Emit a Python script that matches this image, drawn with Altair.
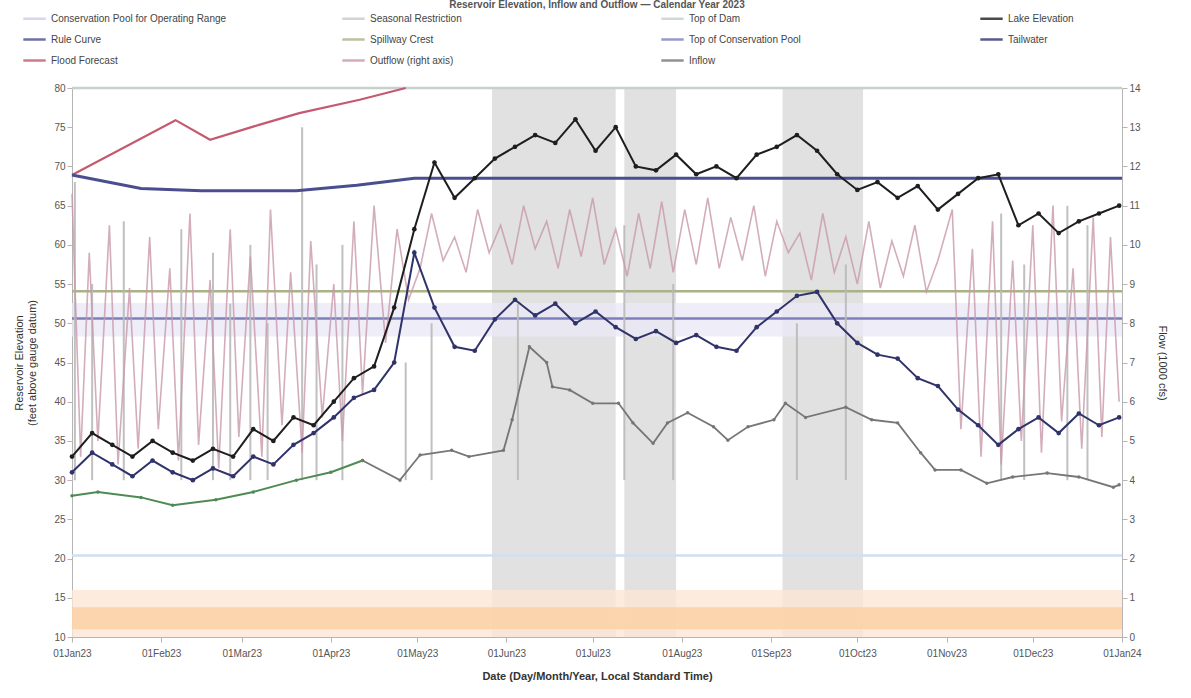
import altair as alt
import pandas as pd

# ---------------------------------------------------------------- text
TITLE = "Reservoir Elevation, Inflow and Outflow \u2014 Calendar Year 2023"
LEFT_TITLE = ["Reservoir Elevation", "(feet above gauge datum)"]
RIGHT_TITLE = "Flow (1000 cfs)"
X_TITLE = "Date (Day/Month/Year, Local Standard Time)"

# ---------------------------------------------------------------- legend entries
SERIES = [
    "Conservation Pool for Operating Range", "Seasonal Restriction", "Top of Dam", "Lake Elevation",
    "Rule Curve", "Spillway Crest", "Top of Conservation Pool", "Tailwater",
    "Flood Forecast", "Outflow (right axis)", "Inflow",
]
SERIES_COLORS = [
    "#cfcbe8", "#c9c9c9", "#c6d0cc", "#1e1e1e",
    "#4a4e8e", "#aab287", "#7c80bd", "#30336a",
    "#c45a6f", "#c898aa", "#767676",
]

# ---------------------------------------------------------------- weekly pool readings
WEEKS = [
    "2023-01-01", "2023-01-08", "2023-01-15", "2023-01-22", "2023-01-29",
    "2023-02-05", "2023-02-12", "2023-02-19", "2023-02-26",
    "2023-03-05", "2023-03-12", "2023-03-19", "2023-03-26",
    "2023-04-02", "2023-04-09", "2023-04-16", "2023-04-23", "2023-04-30",
    "2023-05-07", "2023-05-14", "2023-05-21", "2023-05-28",
    "2023-06-04", "2023-06-11", "2023-06-18", "2023-06-25",
    "2023-07-02", "2023-07-09", "2023-07-16", "2023-07-23", "2023-07-30",
    "2023-08-06", "2023-08-13", "2023-08-20", "2023-08-27",
    "2023-09-03", "2023-09-10", "2023-09-17", "2023-09-24",
    "2023-10-01", "2023-10-08", "2023-10-15", "2023-10-22", "2023-10-29",
    "2023-11-05", "2023-11-12", "2023-11-19", "2023-11-26",
    "2023-12-03", "2023-12-10", "2023-12-17", "2023-12-24", "2023-12-31",
]
LAKE_FT = [
    33.0, 36.0, 34.5, 33.0, 35.0, 33.5, 32.5, 34.0, 33.0, 36.5,
    35.0, 38.0, 37.0, 40.0, 43.0, 44.5, 52.0, 62.0, 70.5, 66.0,
    68.5, 71.0, 72.5, 74.0, 73.0, 76.0, 72.0, 75.0, 70.0, 69.5,
    71.5, 69.0, 70.0, 68.5, 71.5, 72.5, 74.0, 72.0, 69.0, 67.0,
    68.0, 66.0, 67.5, 64.5, 66.5, 68.5, 69.0, 62.5, 64.0, 61.5,
    63.0, 64.0, 65.0,
]
TAILWATER_FT = [
    31.0, 33.5, 32.0, 30.5, 32.5, 31.0, 30.0, 31.5, 30.5, 33.0,
    32.0, 34.5, 36.0, 38.0, 40.5, 41.5, 45.0, 59.0, 52.0, 47.0,
    46.5, 50.5, 53.0, 51.0, 52.5, 50.0, 51.5, 49.5, 48.0, 49.0,
    47.5, 48.5, 47.0, 46.5, 49.5, 51.5, 53.5, 54.0, 50.0, 47.5,
    46.0, 45.5, 43.0, 42.0, 39.0, 37.0, 34.5, 36.5, 38.0, 36.0,
    38.5, 37.0, 38.0,
]

# ---------------------------------------------------------------- guide curves
RULE_DATES = ["2023-01-01", "2023-01-25", "2023-02-15", "2023-03-20", "2023-04-10", "2023-04-30", "2024-01-01"]
RULE_FT = [68.9, 67.2, 66.9, 66.9, 67.6, 68.5, 68.5]

FORECAST_DATES = ["2023-01-01", "2023-02-06", "2023-02-18", "2023-03-07", "2023-03-21", "2023-04-11", "2023-04-27"]
FORECAST_FT = [68.9, 75.9, 73.4, 75.3, 76.8, 78.5, 80.0]

MINIMUM_DATES = ["2023-01-01", "2023-01-10", "2023-01-25", "2023-02-05", "2023-02-20",
                 "2023-03-05", "2023-03-20", "2023-04-01", "2023-04-12"]
MINIMUM_FT = [28.0, 28.5, 27.8, 26.8, 27.5, 28.5, 30.0, 31.0, 32.5]

INFLOW_DATES = [
    "2023-04-12", "2023-04-25", "2023-05-02", "2023-05-13", "2023-05-19", "2023-05-31",
    "2023-06-03", "2023-06-09", "2023-06-15", "2023-06-17", "2023-06-23",
    "2023-07-01", "2023-07-10", "2023-07-15", "2023-07-22", "2023-07-27",
    "2023-08-03", "2023-08-12", "2023-08-17", "2023-08-24",
    "2023-09-02", "2023-09-06", "2023-09-13", "2023-09-27",
    "2023-10-06", "2023-10-15", "2023-10-23", "2023-10-28",
    "2023-11-06", "2023-11-15", "2023-11-24",
    "2023-12-06", "2023-12-17", "2023-12-29", "2023-12-31",
]
INFLOW_FT = [
    32.5, 30.0, 33.2, 33.8, 33.0, 33.8,
    37.7, 47.0, 45.0, 41.9, 41.5,
    39.8, 39.8, 37.3, 34.7, 37.3,
    38.6, 36.8, 35.1, 36.8,
    37.7, 39.8, 38.0, 39.3,
    37.7, 37.3, 33.5, 31.3,
    31.3, 29.6, 30.4,
    30.9, 30.4, 29.1, 29.4,
]

# ---------------------------------------------------------------- fixed pool levels (ft)
TOP_OF_DAM = 80.0
SPILLWAY_CREST = 54.1
TOP_OF_CONSERVATION = 50.6
DEAD_STORAGE_LINE = 20.4
CONSERVATION_RANGE = (48.3, 52.6)
INACTIVE_POOL = (10.0, 16.0)
SEDIMENT_POOL = (11.0, 13.8)

# ---------------------------------------------------------------- seasonal restriction windows
RESTRICT_START = ["2023-05-27", "2023-07-12", "2023-09-05"]
RESTRICT_END = ["2023-07-09", "2023-07-30", "2023-10-03"]

# ---------------------------------------------------------------- outflow (1000 cfs)
OUTFLOW_DATES = [
    "2023-01-01", "2023-01-04", "2023-01-07", "2023-01-10", "2023-01-14", "2023-01-17",
    "2023-01-21", "2023-01-24", "2023-01-28", "2023-01-31", "2023-02-04", "2023-02-07",
    "2023-02-11", "2023-02-14", "2023-02-18", "2023-02-21", "2023-02-25", "2023-02-28",
    "2023-03-04", "2023-03-08", "2023-03-11", "2023-03-15", "2023-03-18", "2023-03-22",
    "2023-03-25", "2023-03-29", "2023-04-02", "2023-04-05", "2023-04-09", "2023-04-12",
    "2023-04-16", "2023-04-20", "2023-04-24", "2023-04-28",
    "2023-05-02", "2023-05-06", "2023-05-10", "2023-05-14", "2023-05-18", "2023-05-22",
    "2023-05-26", "2023-05-30", "2023-06-03", "2023-06-07", "2023-06-11", "2023-06-15",
    "2023-06-19", "2023-06-23", "2023-06-27", "2023-07-01", "2023-07-05", "2023-07-09",
    "2023-07-13", "2023-07-17", "2023-07-21", "2023-07-25", "2023-07-29", "2023-08-02",
    "2023-08-06", "2023-08-10", "2023-08-14", "2023-08-18", "2023-08-22", "2023-08-26",
    "2023-08-30", "2023-09-03", "2023-09-07", "2023-09-11", "2023-09-15", "2023-09-19",
    "2023-09-23", "2023-09-27", "2023-10-01", "2023-10-05", "2023-10-09", "2023-10-13",
    "2023-10-17", "2023-10-21", "2023-10-25", "2023-10-29",
    "2023-11-03", "2023-11-06", "2023-11-10", "2023-11-13", "2023-11-17", "2023-11-20",
    "2023-11-24", "2023-11-27", "2023-12-01", "2023-12-04", "2023-12-08", "2023-12-11",
    "2023-12-15", "2023-12-18", "2023-12-22", "2023-12-25", "2023-12-28", "2023-12-31",
]
OUTFLOW_KCFS = [
    11.3, 4.6, 9.8, 5.0, 10.5, 4.4,
    8.9, 4.8, 10.2, 5.3, 9.4, 4.5,
    10.8, 4.9, 9.1, 4.3, 10.4, 5.1,
    9.7, 4.6, 10.9, 5.4, 9.3, 4.7,
    10.1, 5.6, 9.0, 5.0, 10.6, 6.2,
    11.0, 7.5, 10.4, 8.6,
    9.4, 10.8, 9.6, 10.2, 9.3, 10.9,
    9.8, 10.5, 9.5, 11.0, 9.9, 10.6,
    9.4, 10.9, 9.7, 11.2, 9.5, 10.4,
    9.2, 10.8, 9.4, 11.1, 9.3, 10.9,
    9.5, 11.2, 9.4, 10.7, 9.6, 11.0,
    9.2, 10.6, 9.8, 10.3, 9.1, 10.8,
    9.3, 10.2, 9.0, 10.6, 8.9, 10.1,
    9.2, 10.5, 8.8, 9.6,
    10.9, 5.3, 9.9, 4.6, 10.6, 4.4,
    9.6, 5.0, 10.5, 4.7, 11.0, 5.5,
    9.4, 4.8, 10.7, 5.1, 10.2, 6.0,
]

# ---------------------------------------------------------------- spill gate openings (1000 cfs)
SPILL_DATES = [
    "2023-01-02", "2023-01-08", "2023-01-19", "2023-02-08", "2023-02-19", "2023-02-25",
    "2023-03-04", "2023-03-10", "2023-03-22", "2023-03-27", "2023-04-05", "2023-04-27",
    "2023-05-06", "2023-06-05", "2023-07-12", "2023-07-29", "2023-09-10", "2023-09-27",
    "2023-11-20", "2023-11-28", "2023-12-13", "2023-12-20",
]
SPILL_PEAK = [
    11.6, 9.0, 10.6, 10.4, 9.8, 8.5,
    10.0, 8.0, 13.0, 9.5, 10.0, 7.0,
    8.0, 8.5, 10.5, 9.0, 8.0, 9.5,
    10.8, 9.5, 11.0, 10.5,
]
SPILL_BASE = 4.0


def series_frame(dates, values, name):
    return pd.DataFrame({"date": pd.to_datetime(dates), "value": values, "series": name})


# ---------------------------------------------------------------- shared encodings
FONT = "Liberation Sans"
X_SCALE = alt.Scale(domain=[alt.DateTime(year=2023, month=1, date=1),
                            alt.DateTime(year=2024, month=1, date=1)], nice=False)
X_AXIS = alt.Axis(format="%d%b%y", tickCount=alt.TimeIntervalStep(interval="month", step=1),
                  labelAngle=0, grid=False, labelPadding=6, titlePadding=12, labelFlush=False)
X_ENC = alt.X("date:T", scale=X_SCALE, axis=X_AXIS, title=X_TITLE)
LEFT_SCALE = alt.Scale(domain=[10, 80], nice=False, zero=False)
RIGHT_SCALE = alt.Scale(domain=[0, 14], nice=False, zero=False)
LEFT_AXIS = alt.Axis(values=list(range(10, 81, 5)), grid=False, orient="left", titlePadding=16)
RIGHT_AXIS = alt.Axis(values=list(range(0, 15)), grid=False, orient="right", titlePadding=16)

LEGEND = alt.Legend(
    orient="none", legendX=-50, legendY=-82, columns=4, direction="horizontal",
    title=None, symbolType="stroke", symbolStrokeWidth=2.5, symbolSize=500,
    labelFontSize=10, labelColor="#444", columnPadding=110, rowPadding=3,
    gridAlign="all", labelLimit=320,
)
COLOR = alt.Color("series:N", scale=alt.Scale(domain=SERIES, range=SERIES_COLORS), legend=LEGEND)


def y_left(field="value", axis=LEFT_AXIS):
    return alt.Y(f"{field}:Q", scale=LEFT_SCALE, axis=axis, title=LEFT_TITLE)


def y_right(field="value"):
    return alt.Y(f"{field}:Q", scale=RIGHT_SCALE, axis=RIGHT_AXIS, title=RIGHT_TITLE)


# ---------------------------------------------------------------- background zones (left axis)
restrict_df = pd.DataFrame({"start": pd.to_datetime(RESTRICT_START), "end": pd.to_datetime(RESTRICT_END)})
restrict = alt.Chart(restrict_df).mark_rect(color="#d6d6d6", opacity=0.72).encode(
    x=alt.X("start:T", scale=X_SCALE, axis=X_AXIS, title=X_TITLE), x2="end:T"
)

zone_df = pd.DataFrame({
    "lo": [INACTIVE_POOL[0], SEDIMENT_POOL[0], CONSERVATION_RANGE[0]],
    "hi": [INACTIVE_POOL[1], SEDIMENT_POOL[1], CONSERVATION_RANGE[1]],
    "zone": ["inactive", "sediment", "conservation"],
})
zones = alt.Chart(zone_df).mark_rect(opacity=0.8).encode(
    y=y_left("lo"), y2="hi",
    fill=alt.Fill("zone:N", legend=None,
                  scale=alt.Scale(domain=["inactive", "sediment", "conservation"],
                                  range=["#fde7d4", "#fbd0a2", "#ebe8f6"])),
)

levels_df = pd.DataFrame({
    "value": [TOP_OF_DAM, SPILLWAY_CREST, TOP_OF_CONSERVATION],
    "series": ["Top of Dam", "Spillway Crest", "Top of Conservation Pool"],
})
levels = alt.Chart(levels_df).mark_rule(strokeWidth=2.5).encode(y=y_left(), color=COLOR)

dead_df = pd.DataFrame({"value": [DEAD_STORAGE_LINE]})
dead_line = alt.Chart(dead_df).mark_rule(strokeWidth=2.5, color="#cfe1ef").encode(y=y_left())

left_back = alt.layer(restrict, zones, levels, dead_line)

# ---------------------------------------------------------------- flows (right axis)
spill_df = pd.DataFrame({"date": pd.to_datetime(SPILL_DATES), "value": SPILL_PEAK, "base": SPILL_BASE})
spills = alt.Chart(spill_df).mark_rule(strokeWidth=2, color="#b9b9b9", opacity=0.9).encode(
    x=X_ENC, y=y_right(), y2="base:Q"
)
outflow = alt.Chart(series_frame(OUTFLOW_DATES, OUTFLOW_KCFS, "Outflow (right axis)")).mark_line(
    strokeWidth=1.6, opacity=0.8
).encode(x=X_ENC, y=y_right(), color=COLOR)

right_flows = alt.layer(spills, outflow)

# ---------------------------------------------------------------- pool and stage series (left axis, no axis drawn)
NO_AXIS = None
forecast = alt.Chart(series_frame(FORECAST_DATES, FORECAST_FT, "Flood Forecast")).mark_line(
    strokeWidth=2.2
).encode(x=X_ENC, y=y_left(axis=NO_AXIS), color=COLOR)

minimum = alt.Chart(series_frame(MINIMUM_DATES, MINIMUM_FT, "Minimum Pool")).mark_line(
    strokeWidth=2, color="#4f8a55", point=alt.OverlayMarkDef(size=12, color="#4f8a55", filled=True)
).encode(x=X_ENC, y=y_left(axis=NO_AXIS))

inflow = alt.Chart(series_frame(INFLOW_DATES, INFLOW_FT, "Inflow")).mark_line(
    strokeWidth=1.8, point=alt.OverlayMarkDef(size=12, filled=True)
).encode(x=X_ENC, y=y_left(axis=NO_AXIS), color=COLOR)

rule_curve = alt.Chart(series_frame(RULE_DATES, RULE_FT, "Rule Curve")).mark_line(
    strokeWidth=3
).encode(x=X_ENC, y=y_left(axis=NO_AXIS), color=COLOR)

tailwater = alt.Chart(series_frame(WEEKS, TAILWATER_FT, "Tailwater")).mark_line(
    strokeWidth=2, point=alt.OverlayMarkDef(size=22, filled=True)
).encode(x=X_ENC, y=y_left(axis=NO_AXIS), color=COLOR)

lake = alt.Chart(series_frame(WEEKS, LAKE_FT, "Lake Elevation")).mark_line(
    strokeWidth=2, point=alt.OverlayMarkDef(size=22, filled=True)
).encode(x=X_ENC, y=y_left(axis=NO_AXIS), color=COLOR)

left_front = alt.layer(forecast, minimum, inflow, rule_curve, tailwater, lake)

chart = (
    alt.layer(left_back, right_flows, left_front)
    .resolve_scale(y="independent")
    .properties(
        width=1050,
        height=549,
        padding={"left": 72, "top": 88, "right": 69, "bottom": 61},
        autosize=alt.AutoSizeParams(type="none"),
        title=alt.TitleParams(TITLE, fontSize=10, color="#555", font=FONT, anchor="middle", dy=8),
    )
    .configure(font=FONT, background="white")
    .configure_view(stroke=None)
    .configure_axis(
        labelFont=FONT, titleFont=FONT, labelFontSize=10, titleFontSize=11,
        labelColor="#555", titleColor="#333", domainColor="#b5b5b5", tickColor="#b5b5b5",
        titleFontWeight="normal",
    )
    .configure_axisX(titleFontWeight="bold")
    .configure_legend(labelFont=FONT)
)

chart.save("out.html", embed_options={"renderer": "svg", "actions": False})
